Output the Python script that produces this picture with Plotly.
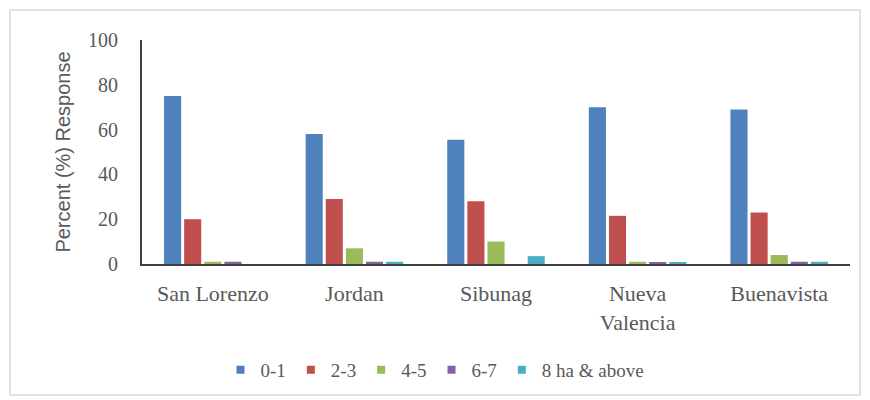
import plotly.graph_objects as go

# Farm size distribution by barangay
barangays = ["San Lorenzo", "Jordan", "Sibunag", "Nueva<br>Valencia", "Buenavista"]
size_classes = ["0-1", "2-3", "4-5", "6-7", "8 ha &amp; above"]

pct_0_1 = [75, 58, 55.5, 70, 69]
pct_2_3 = [20, 29, 28, 21.5, 23]
pct_4_5 = [1, 7, 10, 1, 4]
pct_6_7 = [1, 1, 0, 0.5, 1]
pct_8_up = [0, 1, 3.5, 0.5, 1]

series = [pct_0_1, pct_2_3, pct_4_5, pct_6_7, pct_8_up]
colors = ["#4F81BD", "#C0504D", "#9BBB59", "#8064A2", "#4BACC6"]

fig = go.Figure()
for name, vals, col in zip(size_classes, series, colors):
    fig.add_trace(go.Bar(x=barangays, y=vals, name=name, marker_color=col,
                         marker_line_width=0, legendgroup=name,
                         showlegend=False))
    # compact square legend key
    fig.add_trace(go.Scatter(x=[None], y=[None], mode="markers", name=name,
                             legendgroup=name,
                             marker=dict(symbol="square", size=8, color=col)))

serif = "Liberation Serif"
gray = "#595959"

fig.update_layout(
    width=870, height=400,
    margin=dict(l=142, r=20, t=40, b=136),
    paper_bgcolor="white", plot_bgcolor="white",
    barmode="group", bargap=0.29, bargroupgap=0.15,
    showlegend=True,
    legend=dict(orientation="h", x=0.5, xanchor="center", xref="container",
                y=0.075, yanchor="middle", yref="container",
                font=dict(family=serif, size=19, color=gray),
                itemwidth=30, tracegroupgap=0, itemclick=False),
    font=dict(family=serif, color=gray),
)
fig.update_xaxes(showline=True, linecolor="#404040", linewidth=2,
                 ticks="", tickfont=dict(family=serif, size=22, color=gray),
                 ticklabelstandoff=9)
fig.update_yaxes(range=[0, 100], dtick=20, showgrid=False, zeroline=False,
                 showline=True, linecolor="#404040", linewidth=2, ticks="",
                 tickfont=dict(family=serif, size=20, color=gray),
                 ticklabelstandoff=18,
                 title=dict(text="Percent (%) Response", standoff=12,
                            font=dict(family="Liberation Sans", size=20,
                                      color=gray)))

# light chart-area frame
fig.add_shape(type="rect", xref="paper", yref="paper",
              x0=-132/708, x1=1 + 10/708, y0=-131/224, y1=1 + 30/224,
              line=dict(color="#D9D9D9", width=1.5), layer="below")

fig.write_html("out.html")
